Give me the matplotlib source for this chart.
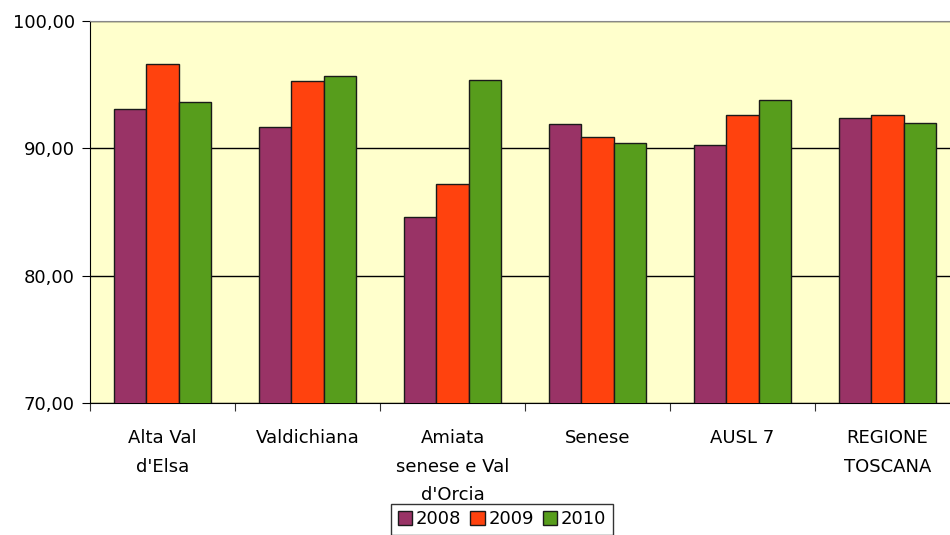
import numpy as np
import matplotlib
matplotlib.use("Agg")
import matplotlib.pyplot as plt
from matplotlib.ticker import FuncFormatter

# dati
zone = ["Alta Val\nd'Elsa", "Valdichiana", "Amiata\nsenese e Val\nd'Orcia",
        "Senese", "AUSL 7", "REGIONE\nTOSCANA"]
anni = ["2008", "2009", "2010"]
v2008 = [93.1, 91.7, 84.6, 91.9, 90.3, 92.4]
v2009 = [96.6, 95.3, 87.2, 90.9, 92.6, 92.6]
v2010 = [93.6, 95.7, 95.4, 90.4, 93.8, 92.0]
colori = ["#993366", "#FF420E", "#579D1C"]

plt.rcParams['font.family'] = ['DejaVu Sans']

fig = plt.figure(figsize=(9.5, 5.35), dpi=100)
# l'area del grafico esce un po' oltre il bordo destro
ax = fig.add_axes([90 / 950, 132 / 535, 870 / 950, 382 / 535])
ax.set_facecolor("#FFFFCC")

x = np.arange(len(zone))
w = 0.225
for i, (serie, c) in enumerate(zip([v2008, v2009, v2010], colori)):
    ax.bar(x + (i - 1) * w, serie, width=w, color=c, edgecolor="#1a1a1a",
           linewidth=1.0, label=anni[i], zorder=3)

ax.set_ylim(70, 100)
ax.set_xlim(-0.5, len(zone) - 0.5)
ax.set_yticks([70, 80, 90, 100])
ax.yaxis.set_major_formatter(FuncFormatter(lambda v, p: f"{v:.2f}".replace(".", ",")))
ax.grid(axis="y", color="black", linewidth=1.0, zorder=1)

# tacche sull'asse x ai bordi delle categorie
ax.set_xticks(np.arange(len(zone) + 1) - 0.5)
ax.set_xticklabels([])
ax.set_xticks(x, minor=True)
ax.set_xticklabels(zone, minor=True, fontsize=13, linespacing=1.75, va="top")
ax.tick_params(axis="x", which="minor", length=0, pad=19)
ax.tick_params(axis="x", which="major", length=6, direction="out", color="#333333")
ax.tick_params(axis="y", length=6, direction="out", labelsize=13, pad=5)

for s in ["left", "bottom"]:
    ax.spines[s].set_color("black")
ax.spines["top"].set_color("#888888")
ax.spines["right"].set_visible(False)

fig.legend(loc="upper center", bbox_to_anchor=(502 / 950, 31 / 535), ncol=3,
           fontsize=13, frameon=True, fancybox=False, edgecolor="black",
           handlelength=0.8, handleheight=0.8, handletextpad=0.2, columnspacing=0.5,
           borderpad=0.35, borderaxespad=0)

fig.savefig("out.png", dpi=100)
